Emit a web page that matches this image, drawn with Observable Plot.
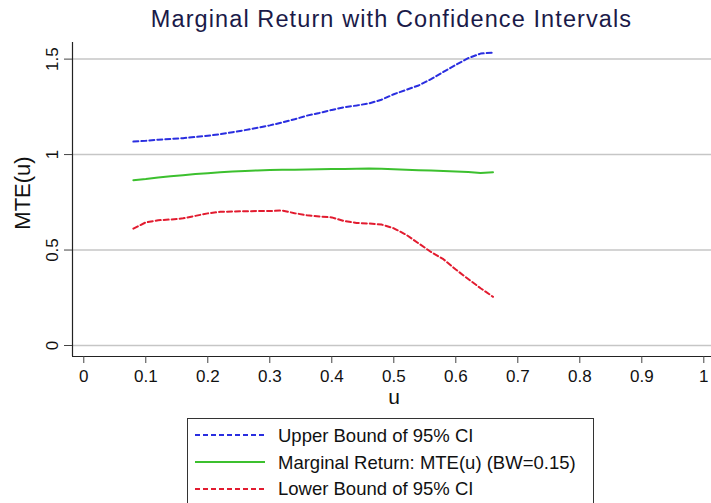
<!DOCTYPE html>
<html>
<head>
<meta charset="utf-8">
<script src="https://cdn.jsdelivr.net/npm/d3@7"></script>
<script src="https://cdn.jsdelivr.net/npm/@observablehq/plot@0.6"></script>
<style>
  body { margin: 0; background: #fff; font-family: "Liberation Sans", Arial, sans-serif; }
  #wrap { position: relative; width: 711px; height: 503px; overflow: hidden; background: #fff; }
  #title { position: absolute; left: 72px; width: 639px; top: 7.5px; text-align: center;
           font-size: 23.5px; line-height: 23.5px; color: #1a1a48; letter-spacing: 1.1px; white-space: nowrap; }
  #plot { position: absolute; left: 0; top: 0; }
  #legend { position: absolute; left: 0; top: 410px; }
  #ytitle { position: absolute; left: 22.5px; top: 193px; width: 0; height: 0; }
  #ytitle span { position: absolute; left: 0; top: 0; transform: translate(-50%, -50%) rotate(-90deg);
                 font-size: 22px; line-height: 22px; color: #111; white-space: nowrap; }
</style>
</head>
<body>
<div id="wrap">
  <div id="plot"></div>
  <div id="title">Marginal Return with Confidence Intervals</div>
  <div id="ytitle"><span>MTE(u)</span></div>
  <div id="legend"></div>
</div>
<script>
const u = [0.08,0.10,0.12,0.14,0.16,0.18,0.20,0.22,0.24,0.26,0.28,0.30,0.32,0.34,0.36,0.38,0.40,0.42,0.44,0.46,0.48,0.50,0.52,0.54,0.56,0.58,0.60,0.62,0.64,0.66];
const upper = [1.068,1.072,1.078,1.082,1.086,1.092,1.099,1.107,1.117,1.128,1.140,1.153,1.168,1.185,1.204,1.218,1.234,1.248,1.257,1.268,1.287,1.316,1.339,1.362,1.395,1.433,1.470,1.505,1.529,1.534];
const mte = [0.866,0.872,0.880,0.886,0.892,0.898,0.902,0.907,0.911,0.914,0.917,0.919,0.920,0.921,0.922,0.923,0.924,0.925,0.926,0.927,0.926,0.923,0.920,0.918,0.917,0.914,0.912,0.909,0.904,0.907];
const lower = [0.612,0.645,0.656,0.660,0.666,0.679,0.692,0.700,0.702,0.703,0.704,0.704,0.707,0.693,0.682,0.676,0.671,0.652,0.642,0.639,0.634,0.614,0.580,0.535,0.490,0.452,0.398,0.348,0.300,0.255];

const xTicks = [0,0.1,0.2,0.3,0.4,0.5,0.6,0.7,0.8,0.9,1];
const yTicks = [0,0.5,1,1.5];
const xDomain = [-0.0182, 1.0124];
const yDomain = [-0.0576, 1.587];

const seriesNames = ["Upper Bound of 95% CI", "Marginal Return: MTE(u) (BW=0.15)", "Lower Bound of 95% CI"];
const seriesColors = ["#2a2ee0", "#3cc02e", "#e21b2f"];
const seriesDash = ["5,3", null, "5,3"];

const data = u.map((d, i) => ({u: d, upper: upper[i], mte: mte[i], lower: lower[i]}));
const keys = ["upper", "mte", "lower"];

const chart = Plot.plot({
  width: 711,
  height: 410,
  marginTop: 42,
  marginBottom: 54,
  marginLeft: 72,
  marginRight: 0,
  style: {fontFamily: "'Liberation Sans', Arial, sans-serif", fontSize: "17px", background: "transparent", color: "#111"},
  x: {domain: xDomain, label: null},
  y: {domain: yDomain, label: null},
  marks: [
    Plot.gridY(yTicks, {stroke: "#c6c6c6", strokeOpacity: 1, strokeWidth: 1.5}),
    Plot.ruleX([xDomain[0]], {stroke: "#222", strokeWidth: 1.2}),
    Plot.ruleY([yDomain[0]], {stroke: "#222", strokeWidth: 1.2}),
    Plot.axisX(xTicks, {tickSize: 7, tickPadding: 6, fontSize: 17, tickFormat: d => String(d), stroke: "#444", fill: "#111"}),
    Plot.axisY(yTicks, {tickSize: 8, tickPadding: 7, fontSize: 17, tickRotate: -90, tickFormat: d => String(d), stroke: "#444", fill: "#111"}),
    ...keys.map((k, i) => Plot.line(data, {x: "u", y: k, stroke: seriesColors[i], strokeWidth: 2, strokeDasharray: seriesDash[i]})),
    Plot.text(["u"], {frameAnchor: "bottom", lineAnchor: "bottom", dy: 47, dx: 2, fontSize: 21, fill: "#111"})
  ]
});
document.getElementById("plot").appendChild(chart);

// Legend
const lg = d3.select("#legend").append("svg").attr("width", 711).attr("height", 93);
lg.append("rect").attr("x", 187.5).attr("y", 8.5).attr("width", 406).attr("height", 120)
  .attr("fill", "#fff").attr("stroke", "#333").attr("stroke-width", 1);
seriesNames.forEach((name, i) => {
  const yl = 25 + i * 27;
  lg.append("line").attr("x1", 195).attr("x2", 265).attr("y1", yl).attr("y2", yl)
    .attr("stroke", seriesColors[i]).attr("stroke-width", 2)
    .attr("stroke-dasharray", seriesDash[i]);
  lg.append("text").attr("x", 278).attr("y", 32 + i * 26.7).text(name)
    .attr("font-size", 18.5).attr("fill", "#111")
    .attr("font-family", "'Liberation Sans', Arial, sans-serif");
});
</script>
</body>
</html>
